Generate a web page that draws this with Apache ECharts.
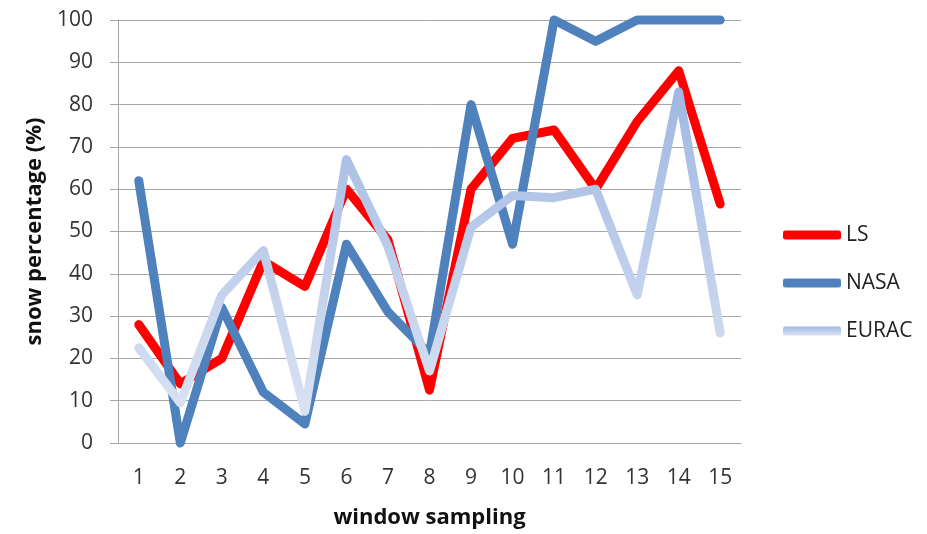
<!DOCTYPE html>
<html>
<head>
<meta charset="utf-8">
<script src="https://cdn.jsdelivr.net/npm/echarts@6/dist/echarts.min.js"></script>
<style>
  html, body { margin: 0; padding: 0; background: #fff; }
  #chart { width: 927px; height: 534px; }
</style>
</head>
<body>
<div id="chart"></div>
<script>
// Window sampling indices along the x axis
const windows = ['1','2','3','4','5','6','7','8','9','10','11','12','13','14','15'];

// Snow percentage per window for each product
const lsValues    = [28, 14, 20, 43, 37, 60, 48, 12.5, 60, 72, 74, 60, 76, 88, 56.5];
const nasaValues  = [62, 0, 32, 12, 4.5, 47, 31, 21, 80, 47, 100, 95, 100, 100, 100];
const euracValues = [22.5, 9.5, 35, 45.5, 7.5, 67, 46.5, 17, 51, 58.5, 58, 60, 35, 83, 26];

// Y axis range and tick step
const yMin = 0, yMax = 100, yStep = 10;

const FONT = 'Open Sans';
const gridGray = '#a6a6a6';

const chart = echarts.init(document.getElementById('chart'), null, { renderer: 'canvas' });

function lineSeries(name, data, color) {
  return {
    name: name,
    type: 'line',
    data: data,
    symbol: 'none',
    clip: false,
    lineStyle: { width: 9, color: color, cap: 'round', join: 'round' },
    itemStyle: { color: color }
  };
}

const euracColor = new echarts.graphic.LinearGradient(0, 0, 0, 1, [
  { offset: 0, color: '#9fb7e2' },
  { offset: 1, color: '#dae3f3' }
]);

chart.setOption({
  animation: false,
  backgroundColor: '#ffffff',
  grid: { left: 118, right: 186, top: 20, bottom: 91, containLabel: false },
  xAxis: {
    type: 'category',
    data: windows,
    boundaryGap: true,
    name: 'window sampling',
    nameLocation: 'middle',
    nameGap: 64,
    nameTextStyle: { fontFamily: FONT, fontSize: 22, fontWeight: 'bold', color: '#111' },
    axisLine: { show: true, lineStyle: { color: gridGray, width: 1 } },
    axisTick: { show: false },
    axisLabel: { fontFamily: FONT, fontSize: 21, color: '#333', margin: 25 }
  },
  yAxis: {
    type: 'value',
    min: yMin,
    max: yMax,
    interval: yStep,
    name: 'snow percentage (%)',
    nameLocation: 'middle',
    nameGap: 72,
    nameTextStyle: { fontFamily: FONT, fontSize: 22, fontWeight: 'bold', color: '#111' },
    axisLine: { show: true, lineStyle: { color: gridGray, width: 1 } },
    axisTick: { show: true, inside: false, length: 8, lineStyle: { color: gridGray } },
    axisLabel: { fontFamily: FONT, fontSize: 21, color: '#333', margin: 25 },
    splitLine: { show: true, lineStyle: { color: gridGray, width: 1 } }
  },
  legend: {
    orient: 'vertical',
    left: 778,
    top: 218,
    icon: 'roundRect',
    itemWidth: 58,
    itemHeight: 9,
    itemGap: 24,
    textStyle: { fontFamily: FONT, fontSize: 21, color: '#222', lineHeight: 24 },
    data: ['LS', 'NASA', 'EURAC']
  },
  series: [
    lineSeries('LS', lsValues, '#ff0000'),
    lineSeries('NASA', nasaValues, '#4f81bd'),
    lineSeries('EURAC', euracValues, euracColor)
  ]
});
</script>
</body>
</html>
